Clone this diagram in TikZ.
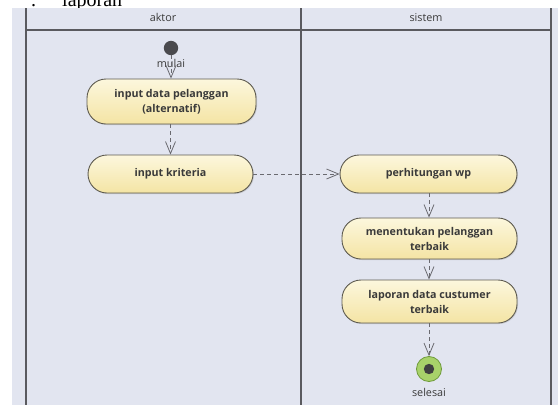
\documentclass[tikz,border=0pt]{standalone}
\usepackage{fontspec}
\setmainfont{Open Sans}
\newfontfamily\serifpart{Liberation Serif}
\usetikzlibrary{arrows.meta,shadows}
\definecolor{bgpanel}{HTML}{E2E5F0}
\definecolor{laneline}{HTML}{5A5A5F}
\definecolor{nodeborder}{HTML}{5E5B50}
\definecolor{filltop}{HTML}{FCF7DD}
\definecolor{fillbot}{HTML}{F4E4A4}
\definecolor{txt}{HTML}{3A3A3A}
\definecolor{flow}{HTML}{6A6A70}
\definecolor{endgreen}{HTML}{A8D26A}
\definecolor{endring}{HTML}{6E9A3A}
\definecolor{startdot}{HTML}{4A4A4E}
\tikzset{
  actbox/.style={draw=nodeborder, line width=0.9pt, rounded corners=19pt,
    top color=filltop, bottom color=fillbot, align=center, text=txt,
    font=\fontsize{10.7}{15}\selectfont\bfseries, inner sep=2pt,
    drop shadow={shadow xshift=1pt, shadow yshift=-1pt, opacity=0.25}},
  flowline/.style={draw=flow, line width=0.8pt, dash pattern=on 4pt off 3pt,
    -{Straight Barb[length=12pt,width=10pt,line width=0.8pt]}},
  lane/.style={draw=laneline, line width=1.4pt},
  headtxt/.style={text=txt, font=\fontsize{10.8}{12}\selectfont},
  lbltxt/.style={text=txt, font=\fontsize{10.8}{12}\selectfont}
}
\begin{document}
\begin{tikzpicture}[x=1pt,y=-1pt]
\useasboundingbox (0,0) rectangle (558,405);
\clip (0,0) rectangle (558,405);
% top text fragment
\node[anchor=base west, inner sep=0, font=\serifpart\fontsize{20}{20}\selectfont] (lap) at (62,6) {laporan};
\node[anchor=base west, inner sep=0, font=\serifpart\fontsize{20}{20}\selectfont] (dot) at (31,6) {.};
% panel
\fill[bgpanel] (12,8) rectangle (558,405);
% lanes
\draw[lane] (26,8) -- (26,405);
\draw[lane] (301,8) -- (301,405);
\draw[lane] (551,8) -- (551,405);
\draw[lane, line width=1.2pt] (26,30) -- (551,30);
\node[headtxt] (hA) at (163,17.5) {aktor};
\node[headtxt] (hS) at (426,17.5) {sistem};
% start
\fill[startdot] (171,48) circle (7.2);
\node[circle, minimum size=14pt, inner sep=0] (start) at (171,48) {};
\node[lbltxt] (mulai) at (171,63) {mulai};
% activities
\node[actbox, minimum width=169pt, minimum height=45pt] (n1) at (171.5,101.5) {input data pelanggan\\(alternatif)};
\node[actbox, minimum width=165pt, minimum height=38pt] (n2) at (170.5,174) {input kriteria};
\node[actbox, minimum width=177pt, minimum height=38pt] (n3) at (428.5,174) {perhitungan wp};
\node[actbox, minimum width=175pt, minimum height=41pt] (n4) at (429.5,238.5) {menentukan pelanggan\\terbaik};
\node[actbox, minimum width=175pt, minimum height=43pt] (n5) at (429.5,301.5) {laporan data custumer\\terbaik};
% end
\node[circle, draw=endring, line width=0.8pt, fill=endgreen, minimum size=25pt, inner sep=0] (fin) at (429,369) {};
\fill[black!75] (fin.center) circle (5.2);
\node[lbltxt] (selesai) at (429,392) {selesai};
% flows
\draw[flowline] (start.south) -- (start.south |- n1.north);
\draw[flowline] (n2.north |- n1.south) -- (n2.north);
\draw[flowline] (n2.east) -- (n3.west);
\draw[flowline] (fin.north |- n3.south) -- (fin.north |- n4.north);
\draw[flowline] (fin.north |- n4.south) -- (fin.north |- n5.north);
\draw[flowline] (fin.north |- n5.south) -- (fin.north);
\end{tikzpicture}
\end{document}
